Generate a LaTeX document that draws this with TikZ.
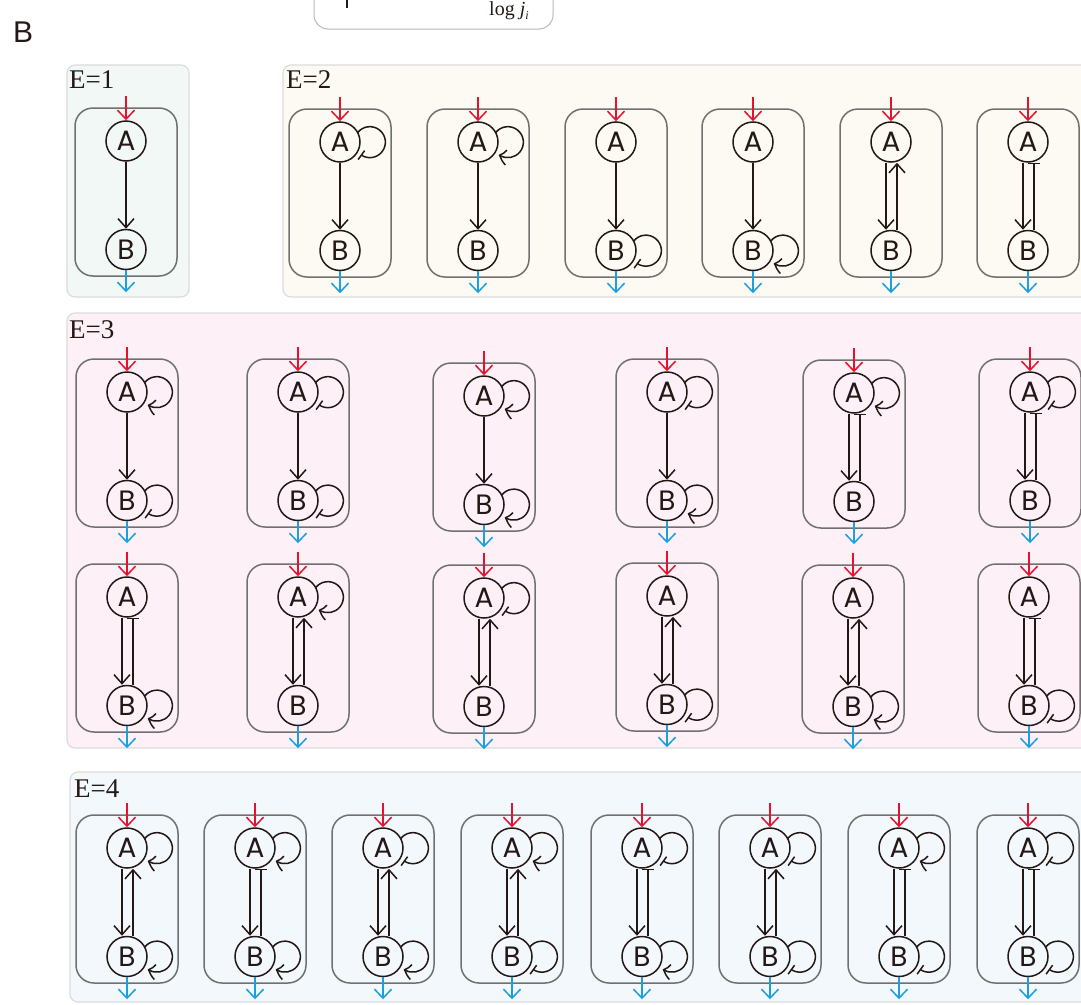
\documentclass[tikz,border=0pt]{standalone}
\usepackage{fontspec}
\setmainfont{Liberation Serif}
\setsansfont{Liberation Sans}
\newfontfamily\genefont{Poppins}
\usepackage{tikz}
\usetikzlibrary{arrows.meta,bending,positioning}

\definecolor{inred}{HTML}{E8112D}
\definecolor{outblue}{HTML}{1A9FE0}
\definecolor{ink}{HTML}{231815}
\definecolor{boxgray}{HTML}{707070}
\definecolor{panelline}{HTML}{DCDCDC}
\definecolor{fillone}{HTML}{F1F8F5}
\definecolor{filltwo}{HTML}{FCFAF2}
\definecolor{fillthree}{HTML}{FDF1F7}
\definecolor{fillfour}{HTML}{F2F8FB}

% self-loop on the right side of a gene
\newcommand{\selfloop}[2]{%
  \draw[#2] ([shift={(28:20pt)}]#1.center) arc[start angle=142, end angle=-126, radius=15.5pt];}

% one motif: name, x, y of A, link back (0 none, 1 act, 2 inh), loop on A, loop on B
\newcommand{\motif}[6]{%
  \node[modbox] (#1box) at (#2,-#3-51) {};
  \node[gene] (#1A) at (#2,-#3) {A};
  \node[gene, below=67pt of #1A] (#1B) {B};
  \coordinate[above=24pt of #1A] (#1in);
  \coordinate[below=22pt of #1B] (#1out);
  \draw[inarr] (#1in) -- (#1A);
  \draw[outarr] (#1B) -- (#1out);
  \ifcase#4
    \draw[act] (#1A) -- (#1B);
  \or
    \draw[act] ([xshift=-5pt]#1A.south) -- ([xshift=-5pt]#1B.north);
    \draw[act] ([xshift=6pt]#1B.north) -- ([xshift=6pt]#1A.south);
  \or
    \draw[act] ([xshift=-5pt]#1A.south) -- ([xshift=-5pt]#1B.north);
    \draw[inh] ([xshift=6pt]#1B.north) -- ([xshift=6pt]#1A.south);
  \fi
  \ifcase#5\or\selfloop{#1A}{loopact}\or\selfloop{#1A}{loopinh}\fi
  \ifcase#6\or\selfloop{#1B}{loopact}\or\selfloop{#1B}{loopinh}\fi
}

\begin{document}
\begin{tikzpicture}[
  x=1pt, y=1pt,
  wire/.style={draw=ink, line width=1.5pt},
  gene/.style={circle, draw=ink, line width=1.5pt, minimum size=40pt, inner sep=0pt, text=ink, font=\genefont\fontsize{28pt}{32pt}\selectfont},
  modbox/.style={draw=boxgray, line width=1.5pt, rounded corners=18pt, minimum width=102pt, minimum height=168pt},
  act/.style={wire, -{Straight Barb[length=9pt,width=16pt]}},
  inh/.style={wire, -{Bar[width=12pt]}},
  loopact/.style={wire, -{Straight Barb[length=7pt,width=15pt,bend]}},
  loopinh/.style={wire, -{Bar[width=11pt]}},
  inarr/.style={draw=inred, line width=1.5pt, -{Straight Barb[length=9pt,width=17pt]}},
  outarr/.style={draw=outblue, line width=1.5pt, -{Straight Barb[length=9pt,width=17pt]}},
  panel/.style={draw=panelline, line width=1.2pt, rounded corners=8pt},
  elabel/.style={anchor=base west, inner sep=0pt, text=ink, font=\fontsize{27pt}{31pt}\selectfont}
]
\path[use as bounding box, clip] (0,0) rectangle (1081,-1004);

% header
\node[anchor=base west, inner sep=0pt, text=ink, font=\sffamily\fontsize{30pt}{36pt}\selectfont] (panelB) at (13,-42) {B};
\draw[draw=gray!55, line width=1pt, rounded corners=14pt] (314,20) rectangle (553,-29);
\draw[ink, line width=1.2pt] (347,0) -- (347,-8);
\node[anchor=base west, inner sep=0pt, text=ink, font=\fontsize{20pt}{24pt}\selectfont] (logj) at (489,-15)
  {log \textit{j}\raisebox{-4pt}{\fontsize{12pt}{12pt}\selectfont\textit{i}}};

% panels
\draw[panel, fill=fillone] (67,-65) rectangle (189,-297);
\draw[panel, fill=filltwo] (283,-65) rectangle (1095,-297);
\draw[panel, fill=fillthree] (67,-313) rectangle (1095,-748);
\draw[panel, fill=fillfour] (70,-772) rectangle (1095,-1002);
\node[elabel] (e1) at (69,-88) {E=1};
\node[elabel] (e2) at (286,-88) {E=2};
\node[elabel] (e3) at (69,-338) {E=3};
\node[elabel] (e4) at (74,-797) {E=4};

% E=1
\motif{a}{126}{141}{0}{0}{0}

% E=2
\motif{b1}{340}{142}{0}{2}{0}
\motif{b2}{478}{142}{0}{1}{0}
\motif{b3}{616}{142}{0}{0}{2}
\motif{b4}{753}{142}{0}{0}{1}
\motif{b5}{891}{142}{1}{0}{0}
\motif{b6}{1028}{142}{2}{0}{0}

% E=3
\motif{c1}{127}{392}{0}{1}{2}
\motif{c2}{298}{392}{0}{2}{2}
\motif{c3}{484}{396}{0}{1}{1}
\motif{c4}{667}{392}{0}{2}{1}
\motif{c5}{854}{393}{2}{1}{0}
\motif{c6}{1030}{392}{2}{2}{0}
\motif{d1}{127}{597}{2}{0}{1}
\motif{d2}{298}{597}{1}{1}{0}
\motif{d3}{484}{598}{1}{2}{0}
\motif{d4}{667}{596}{1}{0}{2}
\motif{d5}{853}{598}{1}{0}{1}
\motif{d6}{1029}{597}{2}{0}{2}

% E=4
\motif{e1}{127}{848}{1}{1}{1}
\motif{e2}{255}{848}{2}{1}{1}
\motif{e3}{383}{848}{1}{2}{1}
\motif{e4}{512}{848}{1}{1}{2}
\motif{e5}{642}{848}{2}{2}{1}
\motif{e6}{770}{848}{1}{2}{2}
\motif{e7}{899}{848}{2}{1}{2}
\motif{e8}{1028}{848}{2}{2}{2}

\end{tikzpicture}
\end{document}
